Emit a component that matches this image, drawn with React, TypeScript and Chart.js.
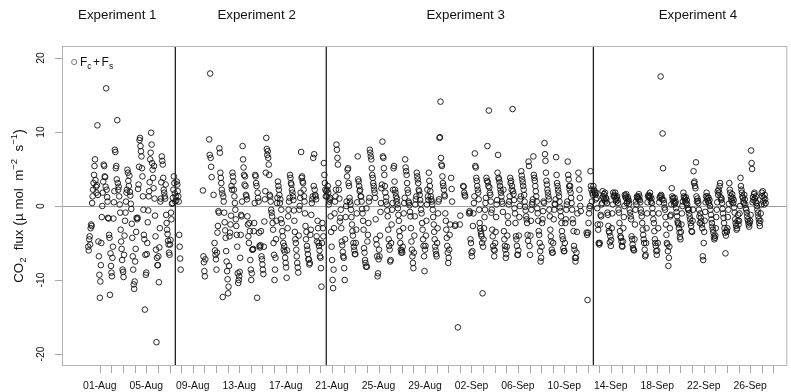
import React, { useEffect, useRef } from "react";
import { Chart, registerables } from "chart.js";

Chart.register(...registerables);

const _ = null;

// Hourly CO2 flux values (one row = one day, 24 hourly readings starting 00:00)
const exp1StartDay = -1; // 31-Jul
const exp1Flux = [
  [-5.5,-6.0,-4.5,-4.1,-5.2,-3.0,-2.5,-2.7,0.4,1.3,2.2,3.1,4.2,5.4,6.3,3.5,2.6,1.8,2.8,10.9,1.5,-4.8,-6.8,-9.3],
  [-12.4,-10.2,-8.0,-5.0,-1.5,0.0,1.8,3.3,5.6,5.4,4.0,3.9,2.6,15.9,2.2,1.2,0.6,-1.6,-1.7,-3.9,-4.3,-12.0,-6.4,-8.1],
  [-9.0,-9.5,-7.0,-5.5,-1.7,0.5,2.0,7.6,7.3,5.1,5.4,3.6,11.6,3.1,2.2,2.6,1.3,0.2,-0.9,-3.2,-4.8,-5.8,-7.3,-8.6],
  [-8.9,-9.6,-6.6,-4.0,-2.0,-0.9,0.6,1.8,2.2,4.9,4.5,3.4,2.7,4.1,1.9,1.4,0.3,-0.4,-2.4,-4.3,-6.8,-8.6,-10.6,-11.2],
  [-10.2,-7.5,-5.8,-3.5,-1.6,-1.8,-1.6,2.3,2.9,5.3,8.9,9.2,8.1,7.4,6.7,5.1,4.0,1.3,-0.5,-3.9,-4.5,-14.0,-6.6,-9.3],
  [-9.0,-6.5,-5.0,-2.2,-0.6,1.3,2.0,3.2,6.3,7.2,9.9,8.3,5.8,4.9,3.8,2.4,5.4,1.0,-1.3,-4.1,-5.9,-18.4,-7.0,-8.0],
  [-8.0,-6.8,-10.3,-5.6,-3.0,0.6,1.0,3.2,6.7,6.1,5.6,3.8,2.2,1.8,1.3,1.0,2.9,-1.2,-2.3,-3.2,-3.8,-4.7,-5.2,-6.3],
  [-6.6,-5.2,-4.6,-0.9,-1.8,0.3,0.4,1.1,2.2,4.0,3.1,1.7,0.6,1.3,0.8,3.3,2.9,2.0,1.3,0.6,-3.9,-5.5,-7.1,-8.6],
];

const exp2StartDay = 8; // 09-Aug
const exp2Flux = [
  [_,_,_,_,_,_,_,_,_,_,_,_,_,_,_,_,_,_,_,_,_,2.1,-6.8,-7.6],
  [-8.8,-9.5,-7.2,_,_,_,_,_,_,_,9.0,6.9,17.9,6.5,5.3,3.9,_,_,_,1.5,_,-5.0,-6.0,-6.6],
  [-7.2,-8.6,-6.3,-3.6,-2.7,-0.7,-0.9,7.8,7.2,4.5,3.8,3.1,2.2,1.7,-12.3,1.3,0.6,-0.9,-2.2,-3.3,-4.3,-6.1,-7.5,-8.8],
  [-9.9,-11.8,-10.9,-8.1,-4.1,-3.6,-2.5,-1.3,2.7,2.2,4.5,4.0,3.3,2.2,1.3,0.4,-0.5,-1.8,-2.7,-3.9,-5.5,-9.1,-10.4,-10.0],
  [-9.5,-8.9,-7.0,-3.9,-1.2,-1.4,0.6,8.1,6.3,5.2,4.2,2.9,4.0,2.7,1.5,1.3,0.9,-1.4,-2.5,-4.1,-5.0,-2.3,-3.4,-7.3],
  [-8.6,-10.0,-9.1,-5.9,-5.9,-5.8,-3.4,-2.3,0.4,4.2,4.0,3.1,2.7,-12.4,1.8,1.1,0.6,-3.6,-5.4,-5.6,-5.3,-3.4,-6.8,-7.2],
  [-7.9,-8.6,-9.2,-5.5,-2.1,0.9,2.0,4.5,9.2,7.7,6.9,7.4,6.5,5.6,4.2,1.5,1.3,0.6,-0.5,-0.9,-1.4,-2.3,-3.2,-5.0],
  [-6.6,-10.0,-8.6,-7.0,-4.5,-2.0,0.4,1.1,3.3,2.7,2.2,1.5,0.4,0.9,-1.8,-0.5,-2.3,-3.4,-4.1,-5.0,-5.9,-5.4,-6.2,-7.0],
  [-7.7,-8.3,-9.7,-6.0,-3.0,-1.4,-0.5,0.6,1.1,4.2,3.8,3.1,2.9,2.2,1.8,1.3,0.8,-0.6,-2.0,-3.5,-4.5,-5.0,-5.9,-6.8],
  [-7.7,-8.3,-9.0,-4.0,-0.5,0.0,1.1,1.8,7.3,3.8,4.0,3.3,3.1,2.2,1.3,0.6,-1.0,-2.7,-4.5,-3.5,-5.4,-5.9,-6.5,-7.2],
  [-7.2,-7.9,-7.7,-3.9,-3.2,-1.2,0.4,0.9,1.3,6.5,2.7,7.0,2.2,1.5,1.3,0.9,-4.1,-4.8,-2.0,-3.0,-5.0,-5.4,-6.0,-6.8],
  [-7.0,-8.4,-10.9,-5.0,-2.3,-3.0,-4.1,5.8,4.2,3.1,2.2,1.3,2.0,1.3,2.2,2.7,1.8,0.2,0.6,0.9,1.1,-1.4,-3.5,-5.5],
];

const exp3StartDay = 20; // 21-Aug
const exp3Flux = [
  [-7.3,-10.0,-11.1,-8.6,-3.0,-1.0,0.6,1.3,2.2,8.3,7.6,6.5,5.6,3.1,2.2,1.0,-2.1,-1.6,-0.5,-3.0,-4.8,-5.3,-6.2,-6.8],
  [-7.0,-8.4,-10.0,-4.5,-1.5,0.0,0.6,4.0,4.9,5.1,3.1,2.7,1.1,0.6,0.2,-0.5,-1.5,-2.5,-3.4,-4.0,-5.0,-5.5,-6.0,-6.5],
  [-6.5,-5.0,-3.2,-1.0,0.5,6.7,3.6,3.3,2.7,2.0,2.2,1.3,1.3,0.6,-0.4,-1.0,-2.0,-3.2,-5.7,-6.3,-7.3,-7.7,-8.2,-0.3],
  [-8.2,-4.8,-3.9,-2.3,0.6,1.1,7.6,7.2,6.7,6.3,5.1,4.2,3.8,3.1,2.7,2.2,1.8,1.1,-1.8,-4.5,-5.2,-6.8,-9.5,-9.1],
  [-7.2,-5.9,-6.8,-4.0,-0.8,0.4,2.4,2.9,8.7,6.7,6.5,5.1,4.2,2.7,1.8,0.6,1.2,0.2,-0.6,-1.4,-3.2,-4.5,-5.4,-5.9],
  [-7.5,-7.3,-5.0,-2.5,-0.5,0.4,2.2,5.1,5.4,3.3,2.2,1.8,1.3,0.6,1.0,0.2,-0.3,-1.2,-2.0,-3.4,-4.1,-5.0,-5.9,-6.3],
  [-6.0,-6.3,-5.5,-3.0,-1.0,0.4,1.1,6.3,5.2,4.7,4.2,3.1,2.2,1.8,0.6,0.4,0.1,-0.8,-1.4,-3.0,-4.8,-5.9,-6.8,-7.7],
  [-8.4,-6.3,-4.0,-1.4,0.2,0.9,1.3,4.5,4.0,3.6,3.1,2.2,2.0,1.5,0.8,0.3,-0.5,-1.0,-2.3,-3.2,-4.5,-5.4,-6.8,-8.8],
  [-5.9,-5.4,-4.0,-2.0,0.2,2.2,1.3,0.8,4.5,3.4,2.7,2.0,1.3,0.9,0.6,0.2,-0.5,-1.5,-2.5,-3.5,-4.5,-5.5,-6.0,-6.5],
  [-6.8,-5.0,-3.0,-1.0,0.6,0.9,9.2,9.3,14.1,6.5,5.6,5.4,4.0,3.1,2.7,2.2,1.5,1.3,-1.0,-2.0,-3.2,-4.3,-5.4,-6.3],
  [-7.7,-7.0,-5.9,-3.9,-2.5,_,3.8,2.3,0.6,_,_,_,_,_,-2.7,-2.5,_,_,_,_,-16.4,_,_,_],
  [-2.5,-1.3,_,_,_,_,_,2.7,2.6,1.8,1.5,1.3,_,_,_,_,_,_,_,-1.0,-0.7,-0.9,-4.5,-5.0],
  [-6.3,-6.8,-6.1,-2.7,-1.0,0.4,1.3,7.1,5.4,5.2,3.8,3.4,2.7,2.2,1.8,0.9,-0.5,-2.3,-3.0,-3.4,-3.8,-4.1,-5.0,-11.8],
  [-5.5,-4.5,-3.0,-1.5,-0.5,0.4,1.1,3.8,3.4,8.1,3.2,2.7,12.9,2.5,1.8,1.5,0.6,-0.9,-0.5,-3.2,-4.1,-5.4,-5.9,-6.8],
  [-6.0,-5.0,-3.5,-1.5,0.2,0.8,4.5,6.9,3.8,3.6,3.2,2.7,2.2,1.8,1.3,0.6,0.3,-0.8,2.2,-3.4,-4.5,-5.4,-5.9,-7.0],
  [-6.5,-5.5,-4.0,-1.4,-2.3,0.2,0.6,1.3,3.8,3.1,3.4,2.2,2.7,13.1,2.0,1.6,0.8,-0.3,-1.0,-2.3,-4.1,-4.5,-5.4,-6.6],
  [-6.6,-6.0,-4.0,-1.5,0.0,0.9,1.3,4.7,4.1,3.6,3.2,2.7,2.2,1.5,0.6,-0.1,-0.6,-1.4,-1.8,-2.3,-3.9,-4.7,6.0,5.4],
  [-5.4,-6.6,-4.0,-2.0,-0.5,0.2,0.5,0.9,6.7,4.2,3.8,3.4,2.7,2.0,1.3,0.6,-0.3,-1.0,-2.0,-3.4,-3.9,-5.0,-6.1,-7.5],
  [-7.0,-5.5,-2.3,-1.8,-0.7,0.6,0.4,8.5,7.0,6.1,4.5,3.4,2.9,2.2,1.8,1.3,0.9,-0.5,-1.4,-3.2,-4.1,-4.8,-5.9,-6.3],
  [-6.3,-5.0,-1.8,-0.5,0.3,0.2,0.9,6.6,4.2,3.1,2.7,2.2,1.8,1.3,0.6,-0.2,-0.7,-1.4,-2.3,-3.4,-4.1,-4.5,-5.7,-6.1],
  [-6.1,-5.0,-2.3,-1.8,-0.5,0.2,0.6,6.0,4.2,3.6,2.7,2.2,2.7,1.8,1.1,0.4,-0.5,-1.8,-2.3,-3.4,-5.4,-5.9,-7.0,-7.5],
  [-7.0,-6.3,-3.5,-1.0,_,4.5,3.6,2.2,1.1,0.0,-0.7,_,_,_,_,_,_,_,_,_,_,_,-3.6,-3.9],
  [-12.7,-3.6,-2.3,-1.0,-0.3,0.0,4.7,2.7,2.2,0.6,1.8,1.5,2.7,2.2,2.0,1.8,1.5,0.9,1.8,1.1,-0.3,-2.5,-3.2,-5.0],
];

const exp4StartDay = 43; // 13-Sep
const exp4Flux = [
  [-5.2,-5.0,-2.5,-1.2,-1.4,0.2,0.4,2.0,1.3,1.1,1.6,0.9,1.8,0.6,1.1,0.9,0.4,-0.9,-1.2,-2.7,-3.4,-3.6,-4.9,-4.1],
  [-5.4,-4.6,-3.0,-1.0,0.2,1.8,1.3,1.5,1.3,1.8,0.9,0.6,1.1,1.3,0.8,0.4,-0.5,-0.9,-2.3,-3.4,-4.1,-4.3,-4.8,-5.4],
  [-5.5,-4.8,-3.0,-1.5,0.0,1.5,1.3,1.1,1.6,0.4,0.6,1.2,0.9,0.7,0.3,-0.5,-0.9,-1.4,-1.8,-4.1,-4.5,-5.2,-5.7,-5.9],
  [-6.0,-4.5,-2.5,-0.5,0.6,0.2,1.3,1.1,1.2,0.9,1.6,1.3,0.8,0.5,-0.5,-0.9,-1.4,-2.3,-3.2,-3.9,-4.5,-5.0,-5.9,-6.8],
  [-6.6,-5.0,-3.0,-1.0,0.5,1.3,1.5,1.3,1.1,1.8,1.3,0.6,1.0,0.4,-0.3,-1.0,-1.8,-2.3,-3.4,-4.5,-5.0,-5.4,-6.1,-6.6],
  [-6.0,-5.0,-3.0,-1.0,0.5,1.1,1.3,17.5,1.5,1.3,0.9,9.8,5.1,0.8,0.4,-0.2,-0.5,-1.5,-2.5,-3.9,-5.0,-5.2,-6.1,-8.1],
  [-7.0,-5.5,-3.0,-1.4,-1.2,0.2,2.4,1.3,0.9,1.1,0.6,0.2,1.1,0.4,0.6,-0.3,-0.8,-1.4,-2.1,-2.3,-2.5,-3.0,-3.6,-4.2],
  [-4.5,-3.5,-2.5,-1.0,0.0,0.6,1.8,1.3,1.1,0.9,0.6,1.2,0.4,0.8,0.2,-0.3,-0.5,-0.5,-1.0,-1.4,-1.8,-2.3,-2.7,-3.4],
  [-3.5,-2.0,-0.5,4.7,3.1,3.3,2.7,2.4,5.9,1.3,0.6,1.0,0.7,0.4,-0.5,-1.4,-2.3,-1.0,-1.6,-2.1,-2.5,-3.0,-6.8,-7.3],
  [-5.0,-3.5,-2.0,-0.8,0.5,1.3,1.8,0.9,1.3,0.6,1.1,0.4,0.8,0.0,-0.5,-1.2,-1.8,-2.3,-2.8,-3.2,-3.6,-4.1,-4.5,-4.3],
  [-4.0,-3.0,-1.5,-0.5,0.5,2.0,1.5,2.2,1.8,2.7,3.1,1.2,0.8,1.0,0.4,-0.4,-1.0,-1.6,-2.3,-3.0,-3.6,-6.4,-4.0,-3.3],
  [-3.5,-3.0,-1.5,-0.5,0.3,3.1,2.2,1.8,1.3,0.9,0.6,1.6,1.1,0.4,0.8,-0.2,-0.9,-1.8,-2.3,-2.7,-3.2,-3.0,-2.0,-1.2],
  [-2.5,-2.0,-1.0,0.0,3.8,2.7,2.2,1.8,1.3,1.1,0.6,0.4,1.5,0.9,0.2,-0.3,-0.5,-0.9,-1.4,-1.8,-2.1,-2.5,-2.8,-2.3],
  [-2.0,-1.2,7.5,5.8,5.0,0.5,1.2,0.8,1.6,1.8,1.0,0.6,1.3,0.4,0.0,-0.5,-0.9,-1.4,-1.8,-2.3,-2.7,-2.0,-1.0,0.2],
  [1.8,1.3,2.0,0.6,1.1,0.2,1.5,0.9,0.4],
];

// Axis labelling
const dayTickDays = Array.from({ length: 59 }, (_v, i) => i); // a tick mark each day, 01-Aug .. 28-Sep
const dateLabelDays = [0, 4, 8, 12, 16, 20, 24, 28, 32, 36, 40, 44, 48, 52, 56];
const dateLabels = ["01-Aug", "05-Aug", "09-Aug", "13-Aug", "17-Aug", "21-Aug", "25-Aug", "29-Aug",
  "02-Sep", "06-Sep", "10-Sep", "14-Sep", "18-Sep", "22-Sep", "26-Sep"];
const yTickValues = [-20, -10, 0, 10, 20];
const experimentNames = ["Experiment 1", "Experiment 2", "Experiment 3", "Experiment 4"];
const experimentLabelDays = [1.5, 13.5, 31.5, 51.5];
const experimentBoundaryDays = [6.5, 19.5, 42.5];

const X_MIN = -3.26;
const X_MAX = 59.2;
const Y_MIN = -21.62;
const Y_MAX = 21.62;

const FONT = '"Liberation Sans", Arial, Helvetica, sans-serif';

function toPoints(start: number, rows: (number | null)[][]) {
  const pts: { x: number; y: number }[] = [];
  rows.forEach((row, d) => {
    row.forEach((v, h) => {
      if (v !== null && v !== undefined) pts.push({ x: start + d + h / 24, y: v });
    });
  });
  return pts;
}

const overlayPlugin = {
  id: "overlay",
  beforeDatasetsDraw(chart: any) {
    const { ctx, chartArea: a, scales } = chart;
    const y0 = Math.round(scales.y.getPixelForValue(0)) + 0.5;
    ctx.save();
    ctx.strokeStyle = "#a0a0a0";
    ctx.lineWidth = 1;
    ctx.beginPath();
    ctx.moveTo(a.left, y0);
    ctx.lineTo(a.right, y0);
    ctx.stroke();
    ctx.restore();
  },
  afterDatasetsDraw(chart: any) {
    const { ctx, chartArea: a, scales } = chart;
    const xs = scales.x;
    const ys = scales.y;
    ctx.save();

    // experiment boundaries
    ctx.strokeStyle = "#222";
    ctx.lineWidth = 1.3;
    experimentBoundaryDays.forEach((d) => {
      const px = xs.getPixelForValue(d);
      ctx.beginPath();
      ctx.moveTo(px, a.top);
      ctx.lineTo(px, a.bottom);
      ctx.stroke();
    });

    // box
    ctx.strokeStyle = "#b4b4b4";
    ctx.lineWidth = 1;
    ctx.strokeRect(a.left + 0.5, a.top + 0.5, a.right - a.left - 1, a.bottom - a.top - 1);

    // x ticks
    ctx.strokeStyle = "#a8a8a8";
    ctx.beginPath();
    dayTickDays.forEach((d) => {
      const px = Math.round(xs.getPixelForValue(d)) + 0.5;
      ctx.moveTo(px, a.bottom);
      ctx.lineTo(px, a.bottom + 7);
    });
    ctx.stroke();
    ctx.fillStyle = "#111";
    ctx.font = `10.4px ${FONT}`;
    ctx.textAlign = "center";
    ctx.textBaseline = "middle";
    dateLabelDays.forEach((d, i) => {
      ctx.fillText(dateLabels[i], xs.getPixelForValue(d), 386);
    });

    // y ticks
    ctx.beginPath();
    yTickValues.forEach((v) => {
      const py = Math.round(ys.getPixelForValue(v)) + 0.5;
      ctx.moveTo(a.left, py);
      ctx.lineTo(a.left - 7, py);
    });
    ctx.stroke();
    yTickValues.forEach((v) => {
      const py = ys.getPixelForValue(v);
      ctx.save();
      ctx.translate(41, py);
      ctx.rotate(-Math.PI / 2);
      ctx.textAlign = "center";
      ctx.textBaseline = "middle";
      ctx.fillText(String(v), 0, 0);
      ctx.restore();
    });

    // experiment titles
    ctx.font = `13.3px ${FONT}`;
    ctx.fillStyle = "#111";
    ctx.textAlign = "center";
    ctx.textBaseline = "middle";
    experimentNames.forEach((n, i) => {
      ctx.fillText(n, xs.getPixelForValue(experimentLabelDays[i]), 15);
    });

    // legend
    ctx.strokeStyle = "#7a7a7a";
    ctx.lineWidth = 1;
    ctx.beginPath();
    ctx.arc(74.2, 62, 2.6, 0, Math.PI * 2);
    ctx.stroke();
    const pieces: [string, number, number][] = [
      ["F", 12, 0], ["c", 8.5, 2.5], ["+", 12, 0], ["F", 12, 0], ["s", 8.5, 2.5],
    ];
    let lx = 80;
    ctx.textAlign = "left";
    ctx.textBaseline = "alphabetic";
    pieces.forEach(([t, sz, dy]) => {
      ctx.font = `${sz}px ${FONT}`;
      if (t === "+") lx += 1.5;
      ctx.fillText(t, lx, 66 + dy);
      lx += ctx.measureText(t).width;
      if (t === "+") lx += 1.5;
    });

    // y title
    ctx.save();
    ctx.translate(19, 206);
    ctx.rotate(-Math.PI / 2);
    const yt: [string, number, number][] = [
      ["CO", 13.3, 0], ["2", 9.5, 3.5], ["  flux ", 13.3, 0], ["(", 14.5, 0], ["\u00b5 mol  m", 13.3, 0],
      ["\u22122", 9.5, -5], ["  s", 13.3, 0], ["\u22121", 9.5, -5], [")", 14.5, 0],
    ];
    let total = 0;
    yt.forEach(([t, sz]) => {
      ctx.font = `${sz}px ${FONT}`;
      total += ctx.measureText(t).width;
    });
    let tx = -total / 2;
    ctx.textBaseline = "middle";
    yt.forEach(([t, sz, dy]) => {
      ctx.font = `${sz}px ${FONT}`;
      ctx.fillText(t, tx, dy + 0.5);
      tx += ctx.measureText(t).width;
    });
    ctx.restore();

    ctx.restore();
  },
};

export default function App() {
  const ref = useRef<HTMLCanvasElement | null>(null);
  useEffect(() => {
    if (!ref.current) return;
    const data = [
      ...toPoints(exp1StartDay, exp1Flux),
      ...toPoints(exp2StartDay, exp2Flux),
      ...toPoints(exp3StartDay, exp3Flux),
      ...toPoints(exp4StartDay, exp4Flux),
    ];
    const chart = new Chart(ref.current, {
      type: "scatter",
      data: {
        datasets: [
          {
            label: "Fc+Fs",
            data,
            pointRadius: 2.8,
            pointBorderWidth: 0.9,
            pointBorderColor: "#111",
            pointBackgroundColor: "rgba(0,0,0,0)",
            pointHoverRadius: 2.8,
          },
        ],
      },
      options: {
        animation: false,
        responsive: false,
        devicePixelRatio: 1,
        events: [],
        layout: { padding: { left: 62, top: 46, right: 1, bottom: 26 } },
        plugins: { legend: { display: false }, tooltip: { enabled: false } },
        scales: {
          x: { type: "linear", min: X_MIN, max: X_MAX, display: false },
          y: { type: "linear", min: Y_MIN, max: Y_MAX, display: false },
        },
      },
      plugins: [overlayPlugin],
    });
    return () => chart.destroy();
  }, []);
  return (
    <div style={{ position: "absolute", left: 0, top: 0, width: 791, height: 392, background: "#fff" }}>
      <canvas ref={ref} width={791} height={392} />
    </div>
  );
}
